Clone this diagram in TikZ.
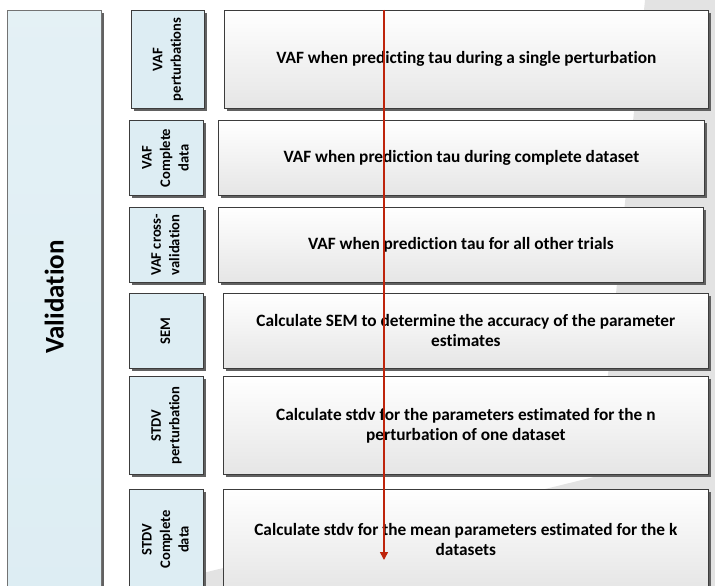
\documentclass[tikz,border=0pt]{standalone}
\usepackage{fontspec}
\setmainfont{Carlito}[Ligatures={NoCommon,NoRare}]
\usetikzlibrary{shadows,arrows.meta}

\definecolor{paleblue}{RGB}{221,237,243}
\definecolor{edgegray}{RGB}{60,60,60}
\definecolor{flowred}{RGB}{190,36,12}

\tikzset{
  card/.style={draw=edgegray, line width=0.7pt, anchor=north west,
    inner sep=0pt, align=center,
    general shadow={fill=black!62, shadow xshift=2.5pt, shadow yshift=-2.5pt}},
  stepbox/.style={card, top color=white, bottom color=black!10,
    font=\bfseries\fontsize{17.3}{20}\selectfont},
  tagbox/.style={card, fill=paleblue,
    font=\bfseries\fontsize{14.6}{18.5}\selectfont},
  flowline/.style={draw=flowred, line width=1.5pt,
    -{Triangle[width=8pt,length=8pt]}}
}
\newcommand{\vtag}[1]{\rotatebox{90}{\begin{tabular}{@{}c@{}}#1\end{tabular}}}

\begin{document}
\begin{tikzpicture}[x=1pt,y=-1pt]
  \useasboundingbox (0,0) rectangle (715,586);
  \clip (0,0) rectangle (715,586);
  % grey backdrop on the right
  \fill[black!11] (645,0) -- (715,0) -- (715,586) -- (150,586) -- (598,476) -- cycle;

  % main label
  \node[card, draw=black!55, top color=paleblue!80, bottom color=paleblue,
        minimum width=94pt, minimum height=600pt] (valid) at (7,10) {};
  \node[font=\bfseries\fontsize{27}{30}\selectfont, rotate=90] (validtxt)
       at (valid.center |- 0,297) {Validation};

  % tags
  \node[tagbox, minimum width=73pt, minimum height=98pt] (t1) at (131,10)
       {\vtag{VAF\\perturbations}};
  \node[tagbox, minimum width=74pt, minimum height=75pt] (t2) at (129,120)
       {\vtag{VAF\\Complete\\data}};
  \node[tagbox, minimum width=74pt, minimum height=75pt] (t3) at (129,207)
       {\vtag{VAF cross-\\validation}};
  \node[tagbox, minimum width=74pt, minimum height=75pt] (t4) at (129,293)
       {\vtag{SEM}};
  \node[tagbox, minimum width=74pt, minimum height=98pt] (t5) at (129,376)
       {\vtag{STDV\\perturbation}};
  \node[tagbox, minimum width=74pt, minimum height=100pt] (t6) at (129,489)
       {\vtag{STDV\\Complete\\data}};

  % steps
  \node[stepbox, minimum width=484pt, minimum height=98pt] (s1) at (224,10)
       {VAF when predicting tau during a single perturbation};
  \node[stepbox, minimum width=486pt, minimum height=75pt] (s2) at (218,120)
       {VAF when prediction tau during complete dataset};
  \node[stepbox, minimum width=485pt, minimum height=75pt] (s3) at (218,207)
       {VAF when prediction tau for all other trials};
  \node[stepbox, minimum width=485pt, minimum height=75pt] (s4) at (223,293)
       {Calculate SEM to determine the accuracy of the parameter\\estimates};
  \node[stepbox, minimum width=485pt, minimum height=98pt] (s5) at (223,376)
       {Calculate stdv for the parameters estimated for the n\\perturbation of one dataset};
  \node[stepbox, minimum width=485pt, minimum height=100pt] (s6) at (223,489)
       {Calculate stdv for the mean parameters estimated for the k\\datasets};

  % red flow line
  \coordinate (flow top) at (384,10);
  \coordinate (flow end) at (384,560);
  \draw[flowline] (flow top) -- (flow end);
\end{tikzpicture}
\end{document}
